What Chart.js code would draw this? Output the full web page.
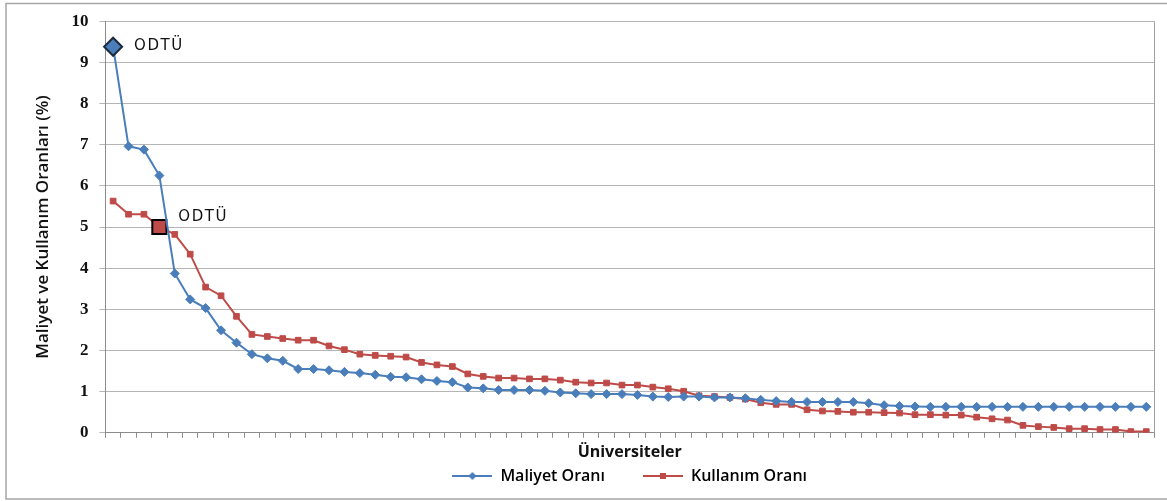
<!DOCTYPE html>
<html>
<head>
<meta charset="utf-8">
<script src="https://cdn.jsdelivr.net/npm/chart.js@4"></script>
<style>
html,body{margin:0;padding:0;background:#fff;}
#wrap{position:relative;width:1167px;height:501px;}
</style>
</head>
<body>
<div id="wrap"><canvas id="c"></canvas></div>
<script>
// Rank categories (universities, sorted separately per series)
const universities = Array.from({length: 68}, (_, i) => String(i + 1));

const maliyetOrani = [
  9.38, 6.96, 6.88, 6.25, 3.87, 3.24, 3.03, 2.49, 2.19, 1.91,
  1.81, 1.75, 1.55, 1.55, 1.52, 1.48, 1.45, 1.41, 1.36, 1.35,
  1.30, 1.26, 1.23, 1.10, 1.08, 1.04, 1.04, 1.04, 1.02, 0.98,
  0.96, 0.94, 0.94, 0.94, 0.92, 0.88, 0.87, 0.88, 0.88, 0.86,
  0.86, 0.84, 0.80, 0.77, 0.75, 0.75, 0.75, 0.75, 0.75, 0.72,
  0.67, 0.65, 0.64, 0.63, 0.63, 0.63, 0.63, 0.63, 0.63, 0.63,
  0.63, 0.63, 0.63, 0.63, 0.63, 0.63, 0.63, 0.63
];

const kullanimOrani = [
  5.63, 5.31, 5.31, 5.00, 4.82, 4.34, 3.54, 3.33, 2.83, 2.39,
  2.34, 2.29, 2.25, 2.25, 2.11, 2.02, 1.91, 1.88, 1.86, 1.84,
  1.71, 1.65, 1.61, 1.43, 1.37, 1.33, 1.33, 1.31, 1.31, 1.28,
  1.23, 1.21, 1.21, 1.16, 1.16, 1.11, 1.07, 1.01, 0.90, 0.88,
  0.86, 0.82, 0.73, 0.69, 0.69, 0.56, 0.53, 0.52, 0.50, 0.50,
  0.49, 0.48, 0.44, 0.44, 0.43, 0.43, 0.38, 0.34, 0.31, 0.18,
  0.15, 0.13, 0.10, 0.10, 0.08, 0.08, 0.03, 0.03
];

const yTicks = [0, 1, 2, 3, 4, 5, 6, 7, 8, 9, 10];
const seriesNames = ['Maliyet Oranı', 'Kullanım Oranı'];
const highlightLabel = 'ODTÜ';
const maliyetHighlightIndex = 0;
const kullanimHighlightIndex = 3;

const BLUE = '#4A7EBB';
const RED = '#BE4B48';

function perPoint(n, idx, special, normal) {
  return Array.from({length: n}, (_, i) => i === idx ? special : normal);
}

function legendIcon(color, style) {
  const c = document.createElement('canvas');
  c.width = 40; c.height = 12;
  const g = c.getContext('2d');
  g.strokeStyle = color; g.lineWidth = 2;
  g.beginPath(); g.moveTo(0, 6); g.lineTo(40, 6); g.stroke();
  g.fillStyle = color;
  g.beginPath();
  if (style === 'diamond') {
    g.moveTo(20, 2); g.lineTo(24, 6); g.lineTo(20, 10); g.lineTo(16, 6); g.closePath();
  } else {
    g.rect(17, 3, 6, 6);
  }
  g.fill();
  return c;
}
const icons = [legendIcon(BLUE, 'diamond'), legendIcon(RED, 'square')];

const framePlugin = {
  id: 'frame',
  beforeDraw(chart) {
    const ctx = chart.ctx;
    ctx.save();
    ctx.fillStyle = '#fff';
    ctx.fillRect(0, 0, chart.width, chart.height);
    ctx.strokeStyle = '#a6a6a6';
    ctx.lineWidth = 1.5;
    ctx.strokeRect(6, 3.5, 1175, 495.5);
    ctx.restore();
  },
  beforeDatasetsDraw(chart) {
    const {ctx, chartArea} = chart;
    ctx.save();
    ctx.strokeStyle = '#a0a0a0';
    ctx.lineWidth = 1;
    ctx.beginPath();
    ctx.moveTo(chartArea.right + 0.5, chartArea.top);
    ctx.lineTo(chartArea.right + 0.5, chartArea.bottom);
    ctx.stroke();
    ctx.restore();
  },
  afterLayout(chart) {
    const lg = chart.legend;
    if (!lg) return;
    const ca = chart.chartArea;
    const dx = (ca.left + ca.right) / 2 - (lg.left + lg.right) / 2;
    lg.left += dx; lg.right += dx;
  },
  afterDatasetsDraw(chart) {
    const ctx = chart.ctx;
    const p0 = chart.getDatasetMeta(0).data[maliyetHighlightIndex];
    const p1 = chart.getDatasetMeta(1).data[kullanimHighlightIndex];
    ctx.save();
    ctx.font = '15px "DejaVu Sans"';
    if ('letterSpacing' in ctx) ctx.letterSpacing = '1.5px';
    ctx.fillStyle = '#111';
    ctx.textBaseline = 'middle';
    ctx.textAlign = 'left';
    ctx.fillText(highlightLabel, p0.x + 21, p0.y - 1);
    ctx.fillText(highlightLabel, p1.x + 19, p1.y - 10);
    ctx.restore();
  }
};

new Chart(document.getElementById('c'), {
  type: 'line',
  data: {
    labels: universities,
    datasets: [
      {
        label: seriesNames[0],
        data: maliyetOrani,
        borderColor: BLUE,
        backgroundColor: BLUE,
        borderWidth: 2,
        tension: 0,
        pointStyle: 'rectRot',
        pointRadius: perPoint(68, maliyetHighlightIndex, 9, 4.5),
        pointBorderWidth: perPoint(68, maliyetHighlightIndex, 2, 1),
        pointBorderColor: perPoint(68, maliyetHighlightIndex, '#1c2b3c', BLUE),
        pointBackgroundColor: BLUE
      },
      {
        label: seriesNames[1],
        data: kullanimOrani,
        borderColor: RED,
        backgroundColor: RED,
        borderWidth: 2,
        tension: 0,
        pointStyle: 'rect',
        pointRadius: perPoint(68, kullanimHighlightIndex, 10, 4),
        pointBorderWidth: perPoint(68, kullanimHighlightIndex, 2, 1),
        pointBorderColor: perPoint(68, kullanimHighlightIndex, '#000000', RED),
        pointBackgroundColor: RED
      }
    ]
  },
  options: {
    responsive: true,
    maintainAspectRatio: false,
    animation: false,
    layout: { padding: { top: 11, left: 14, right: 13, bottom: 7 } },
    plugins: {
      tooltip: { enabled: false },
      legend: {
        position: 'bottom',
        labels: {
          usePointStyle: true,
          pointStyleWidth: 40,
          padding: 6,
          color: '#111',
          font: { family: 'Open Sans', size: 16, weight: '600' },
          generateLabels(chart) {
            return chart.data.datasets.map((ds, i) => ({
              text: i === 0 ? ds.label + '\u2003\u2003' : ds.label,
              pointStyle: icons[i],
              fillStyle: ds.borderColor,
              strokeStyle: ds.borderColor,
              lineWidth: 0,
              hidden: false,
              datasetIndex: i
            }));
          }
        }
      }
    },
    scales: {
      x: {
        offset: true,
        grid: { display: true, drawOnChartArea: false, drawTicks: true, tickLength: 5, color: '#8c8c8c', offset: true },
        border: { display: true, color: '#8c8c8c' },
        ticks: { display: false },
        title: {
          display: true,
          text: 'Üniversiteler',
          color: '#111',
          font: { family: 'Open Sans', size: 16, weight: 'bold' },
          padding: { top: 5, bottom: 0 }
        }
      },
      y: {
        min: 0,
        max: 10,
        afterBuildTicks(scale) { scale.ticks = yTicks.map(v => ({ value: v })); },
        grid: { color: '#b5b5b5', lineWidth: 1, tickLength: 6, drawTicks: true },
        border: { display: true, color: '#8c8c8c' },
        ticks: {
          padding: 11,
          color: '#111',
          font: { family: 'Liberation Serif', size: 17, weight: 'bold' }
        },
        title: {
          display: true,
          text: 'Maliyet ve Kullanım Oranları (%)',
          color: '#111',
          font: { family: 'Open Sans', size: 17, weight: '600' },
          padding: { top: 19, bottom: 7 }
        }
      }
    }
  },
  plugins: [framePlugin]
});
</script>
</body>
</html>
